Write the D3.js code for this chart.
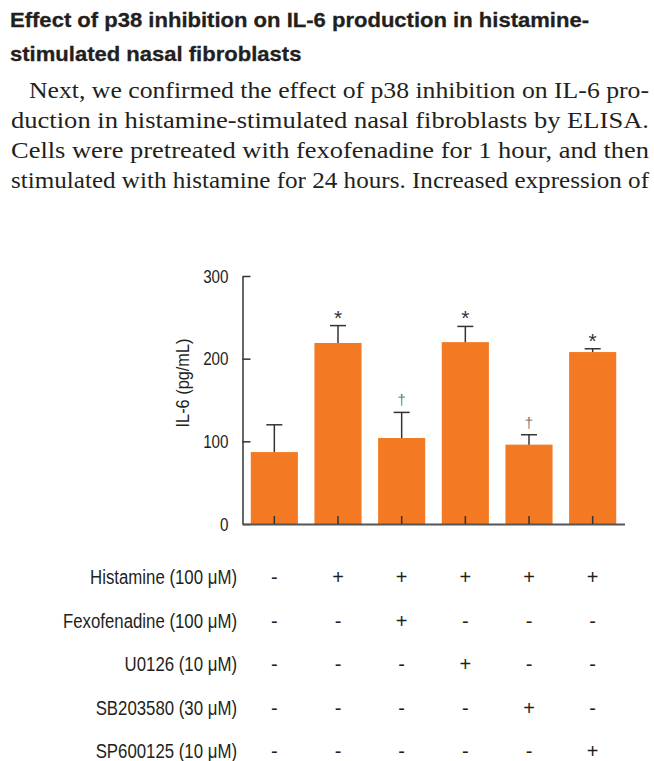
<!DOCTYPE html>
<html>
<head>
<meta charset="utf-8">
<script src="https://d3js.org/d3.v7.min.js"></script>
<style>
    body { margin: 0; background: #fff; }
    svg { display: block; }
    .sans { font-family: "Liberation Sans", Arial, sans-serif; }
    .serif { font-family: "Liberation Serif", "Times New Roman", serif; }
</style>
</head>
<body>
<svg id="chart"></svg>
<script>
    // heading + body text shown above the figure
    var headingLines = ["Effect of p38 inhibition on IL-6 production in histamine-",
        "stimulated nasal fibroblasts"];
    var bodyLines = ["Next, we confirmed the effect of p38 inhibition on IL-6 pro-",
        "duction in histamine-stimulated nasal fibroblasts by ELISA.",
        "Cells were pretreated with fexofenadine for 1 hour, and then",
        "stimulated with histamine for 24 hours. Increased expression of"];

    // chart data
    var groups = [0, 1, 2, 3, 4, 5];
    var means = [87, 219, 104, 220, 96, 208];
    var errors = [33, 21, 31, 19, 12, 4];
    var marks = ["", "*", "\u2020", "*", "\u2020", "*"];
    var yTicks = [0, 100, 200, 300];

    // treatment table under the bars
    var treatments = ["Histamine (100 \u03bcM)", "Fexofenadine (100 \u03bcM)", "U0126 (10 \u03bcM)",
        "SB203580 (30 \u03bcM)", "SP600125 (10 \u03bcM)"];
    var conditions = [
        ["-", "+", "+", "+", "+", "+"],
        ["-", "-", "+", "-", "-", "-"],
        ["-", "-", "-", "+", "-", "-"],
        ["-", "-", "-", "-", "+", "-"],
        ["-", "-", "-", "-", "-", "+"]
    ];

    var width = 654, height = 761;
    var svg = d3.select("#chart").attr("width", width).attr("height", height);

    // no condensed font installed, so squeeze the glyphs instead
    function condense(sel, f) {
        sel.each(function () {
            var w = this.getComputedTextLength();
            d3.select(this).attr("textLength", w * f).attr("lengthAdjust", "spacingAndGlyphs");
        });
    }

    // text block
    var heads = svg.selectAll(".head")
        .data(headingLines)
        .enter()
        .append("text")
        .attr("class", "head sans")
        .attr("x", 10)
        .attr("y", function (d, i) { return 27 + i * 34; })
        .attr("font-size", 20.5)
        .attr("font-weight", "bold")
        .attr("fill", "#231f20")
        .attr("stroke", "#231f20")
        .attr("stroke-width", 0.3)
        .text(function (d) { return d; });
    var headFactor = 579 / heads.node().getComputedTextLength();
    condense(heads, headFactor);

    svg.selectAll(".body")
        .data(bodyLines)
        .enter()
        .append("text")
        .attr("class", "body serif")
        .attr("x", function (d, i) { return i == 0 ? 29 : 11; })
        .attr("y", function (d, i) { return 98 + i * 30; })
        .attr("font-size", 23)
        .attr("fill", "#231f20")
        .attr("textLength", function (d, i) { return i == 0 ? 620 : 638; })
        .attr("lengthAdjust", "spacingAndGlyphs")
        .text(function (d) { return d; });

    var x = d3.scaleBand()
        .domain(groups)
        .range([242.5, 624.5])
        .paddingInner(0.26)
        .paddingOuter(0.13);

    var y = d3.scaleLinear()
        .domain([0, 300])
        .range([524, 276]);

    var plot = svg.append("g");

    // bars
    plot.selectAll(".bar")
        .data(groups)
        .enter()
        .append("rect")
        .attr("class", "bar")
        .attr("x", function (d) { return x(d); })
        .attr("width", x.bandwidth())
        .attr("y", function (d) { return y(means[d]); })
        .attr("height", function (d) { return y(0) - y(means[d]); })
        .attr("fill", "#f37a22");

    // error bars (upper only)
    var err = plot.selectAll(".err")
        .data(groups)
        .enter()
        .append("g")
        .attr("class", "err")
        .attr("stroke", "#333")
        .attr("stroke-width", 1.5);
    err.append("line")
        .attr("x1", function (d) { return x(d) + x.bandwidth() / 2; })
        .attr("x2", function (d) { return x(d) + x.bandwidth() / 2; })
        .attr("y1", function (d) { return y(means[d]); })
        .attr("y2", function (d) { return y(means[d] + errors[d]); });
    err.append("line")
        .attr("x1", function (d) { return x(d) + x.bandwidth() / 2 - 8; })
        .attr("x2", function (d) { return x(d) + x.bandwidth() / 2 + 8; })
        .attr("y1", function (d) { return y(means[d] + errors[d]); })
        .attr("y2", function (d) { return y(means[d] + errors[d]); });

    // significance marks
    plot.selectAll(".mark")
        .data(groups)
        .enter()
        .append("text")
        .attr("class", "mark sans")
        .attr("x", function (d) { return x(d) + x.bandwidth() / 2; })
        .attr("y", function (d) { return y(means[d] + errors[d]) - (marks[d] == "*" ? 1 : 7); })
        .attr("text-anchor", "middle")
        .attr("font-size", function (d) { return marks[d] == "*" ? 21 : 15; })
        .attr("fill", function (d) { return marks[d] == "*" ? "#333" : "#777"; })
        .text(function (d) { return marks[d]; });

    // axes
    var yAxis = plot.append("g")
        .attr("class", "sans")
        .attr("transform", "translate(242.5,0)")
        .call(d3.axisLeft(y).tickValues(yTicks).tickSize(-8).tickSizeOuter(0).tickPadding(14));
    yAxis.selectAll("path, line").attr("stroke", "#333").attr("stroke-width", 1.5);
    yAxis.selectAll("text").attr("font-size", 19).attr("fill", "#231f20").attr("font-family", null);
    condense(yAxis.selectAll("text"), 0.8);

    var xAxis = plot.append("g")
        .attr("transform", "translate(0," + y(0) + ")")
        .call(d3.axisBottom(x).tickSize(-8).tickSizeOuter(0).tickFormat(""));
    xAxis.selectAll("path").attr("stroke", "#555").attr("stroke-width", 2);
    xAxis.selectAll("line").attr("stroke", "#333").attr("stroke-width", 1.5);

    var yLabel = svg.append("text")
        .attr("class", "sans")
        .attr("transform", "translate(189,383) rotate(-90)")
        .attr("text-anchor", "middle")
        .attr("font-size", 19)
        .attr("fill", "#231f20")
        .text("IL-6 (pg/mL)");
    condense(yLabel, 0.86);

    // treatment table
    var rowY = d3.scalePoint()
        .domain(d3.range(treatments.length))
        .range([584, 758]);

    var rows = svg.selectAll(".row")
        .data(treatments)
        .enter()
        .append("g")
        .attr("class", "row sans")
        .attr("transform", function (d, i) { return "translate(0," + rowY(i) + ")"; })
        .attr("font-size", 20)
        .attr("fill", "#231f20");

    var labels = rows.append("text")
        .attr("x", 237)
        .attr("text-anchor", "end")
        .text(function (d) { return d; });
    condense(labels, 0.84);

    rows.selectAll(".cond")
        .data(function (d, i) { return conditions[i]; })
        .enter()
        .append("text")
        .attr("class", "cond")
        .attr("x", function (d, j) { return x(groups[j]) + x.bandwidth() / 2; })
        .attr("text-anchor", "middle")
        .text(function (d) { return d; });
</script>
</body>
</html>
